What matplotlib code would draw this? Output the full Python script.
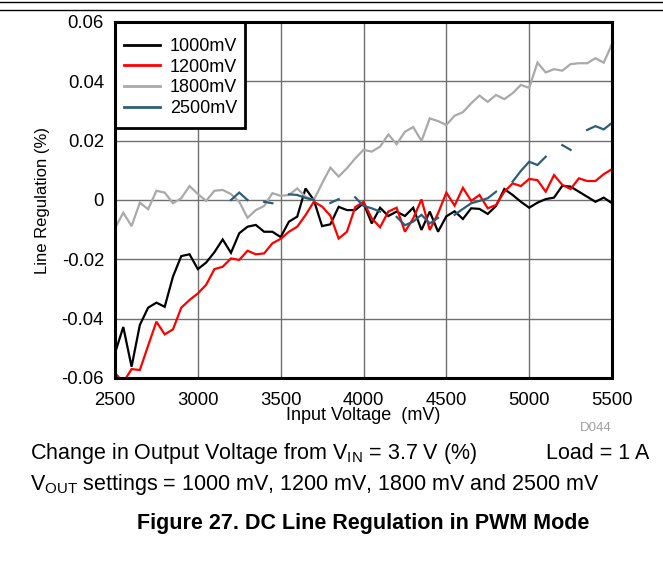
import numpy as np
import matplotlib
matplotlib.use("Agg")
import matplotlib.pyplot as plt
from matplotlib.lines import Line2D
from matplotlib.patches import Rectangle

plt.rcParams['font.family'] = ['Liberation Sans', 'DejaVu Sans']

nan = np.nan
vin = np.arange(2500, 5501, 50)

v1000 = [-0.0516, -0.0428, -0.0562, -0.0421, -0.0363, -0.0346, -0.0360, -0.0258, -0.0189, -0.0183,
         -0.0233, -0.0211, -0.0176, -0.0133, -0.0178, -0.0112, -0.0090, -0.0084, -0.0107, -0.0107,
         -0.0125, -0.0073, -0.0056, 0.0039, 0.0000, -0.0088, -0.0082, -0.0023, -0.0034, -0.0034,
         -0.0011, -0.0079, -0.0026, -0.0054, -0.0039, -0.0054, -0.0026, -0.0101, -0.0039, -0.0107,
         -0.0055, -0.0038, -0.0064, -0.0028, -0.0030, -0.0047, -0.0020, 0.0037, 0.0017, -0.0006,
         -0.0026, -0.0009, 0.0003, 0.0008, 0.0048, 0.0045, 0.0028, 0.0011, -0.0006, 0.0008,
         -0.0011]

v1200 = [-0.0583, -0.0615, -0.0570, -0.0573, -0.0491, -0.0410, -0.0453, -0.0436, -0.0363, -0.0337,
         -0.0315, -0.0286, -0.0233, -0.0225, -0.0197, -0.0202, -0.0171, -0.0183, -0.0180, -0.0146,
         -0.0131, -0.0107, -0.0090, -0.0051, -0.0006, -0.0022, -0.0053, -0.0130, -0.0107, -0.0024,
         -0.0006, -0.0062, -0.0092, -0.0039, -0.0026, -0.0107, -0.0062, 0.0002, -0.0101, -0.0045,
         0.0025, -0.0019, 0.0041, -0.0003, 0.0017, -0.0028, -0.0017, 0.0028, 0.0056, 0.0047,
         0.0071, 0.0067, 0.0028, 0.0084, 0.0051, 0.0037, 0.0073, 0.0064, 0.0064, 0.0087,
         0.0104]

v1800 = [-0.0095, -0.0043, -0.0088, -0.0009, -0.0031, 0.0031, 0.0025, -0.0011, 0.0006, 0.0047,
         0.0020, -0.0003, 0.0031, 0.0034, 0.0020, -0.0006, -0.0060, -0.0034, -0.0020, 0.0023,
         0.0014, 0.0017, 0.0039, 0.0011, 0.0000, 0.0056, 0.0109, 0.0079, 0.0107, 0.0140,
         0.0169, 0.0163, 0.0180, 0.0221, 0.0188, 0.0230, 0.0246, 0.0199, 0.0275, 0.0266,
         0.0253, 0.0284, 0.0296, 0.0326, 0.0352, 0.0331, 0.0354, 0.0340, 0.0360, 0.0388,
         0.0378, 0.0463, 0.0430, 0.0441, 0.0436, 0.0458, 0.0461, 0.0461, 0.0478, 0.0463,
         0.0525]

v2500 = [nan, nan, nan, nan, nan, nan, nan, nan, nan, nan,
         nan, nan, nan, nan, 0.0000, 0.0025, 0.0000, nan, -0.0006, -0.0011,
         nan, 0.0019, 0.0017, 0.0007, 0.0000, nan, -0.0010, 0.0003, nan, 0.0009,
         -0.0020, -0.0028, -0.0039, nan, -0.0057, -0.0085, -0.0073, -0.0050, -0.0079, -0.0060,
         nan, -0.0050, -0.0030, -0.0011, -0.0003, 0.0006, 0.0028, nan, 0.0062, 0.0098,
         0.0129, 0.0118, 0.0146, nan, 0.0185, 0.0169, nan, 0.0236, 0.0249, 0.0238,
         0.0260]

series = [("1000mV", v1000, "#000000"),
          ("1200mV", v1200, "#ff0000"),
          ("1800mV", v1800, "#a9a9a9"),
          ("2500mV", v2500, "#2d5d78")]

xticks = [2500, 3000, 3500, 4000, 4500, 5000, 5500]
yticks = [-0.06, -0.04, -0.02, 0, 0.02, 0.04, 0.06]
ytick_labels = ["-0.06", "-0.04", "-0.02", "0", "0.02", "0.04", "0.06"]

W, H = 663, 577
AX_L, AX_R, AX_T, AX_B = 115, 612, 22, 378
fig = plt.figure(figsize=(W / 100, H / 100), dpi=100)
ax = fig.add_axes([AX_L / W, 1 - AX_B / H, (AX_R - AX_L) / W, (AX_B - AX_T) / H])

for label, vals, col in series:
    ax.plot(vin, vals, color=col, lw=1.6, label=label, solid_joinstyle='miter')

ax.set_xlim(2500, 5500)
ax.set_ylim(-0.06, 0.06)
ax.set_xticks(xticks)
ax.set_xticklabels([str(t) for t in xticks])
ax.set_yticks(yticks)
ax.set_yticklabels(ytick_labels)
ax.tick_params(length=0, labelsize=13.3)
ax.tick_params(axis="x", pad=10)
ax.tick_params(axis="y", pad=8)
ax.grid(True, color="#707070", lw=1.0)
ax.set_axisbelow(True)
for s in ax.spines.values():
    s.set_linewidth(2.2)
    s.set_color("black")
    s.set_zorder(6)

ax.set_xlabel("Input Voltage  (mV)", fontsize=13, labelpad=-1)
ax.set_ylabel("Line Regulation (%)", fontsize=12, labelpad=8)

# legend box (frame drawn separately so its padding matches the reference)
box_w = (245 - AX_L) / (AX_R - AX_L)
box_h = (128 - AX_T) / (AX_B - AX_T)
ax.add_patch(Rectangle((0, 1 - box_h), box_w, box_h, transform=ax.transAxes,
                       facecolor="white", edgecolor="black", lw=2.0, zorder=4.5))
leg = ax.legend(loc="upper left", bbox_to_anchor=(0, 1 - 7 / (AX_B - AX_T)), borderaxespad=0,
                fontsize=13, handlelength=2.0, handletextpad=0.55, labelspacing=0.2,
                borderpad=0.5, frameon=False)
leg.set_zorder(5)
for h in leg.legend_handles:
    h.set_linewidth(2.0)

# header lines
fig.add_artist(Line2D([0, 1], [1 - 2 / H, 1 - 2 / H], color="black", lw=1.0))
fig.add_artist(Line2D([0, 1], [1 - 10 / H, 1 - 10 / H], color="black", lw=1.0))

fig.text(612 / W, 1 - 428 / H, "D044", ha="right", va="center", fontsize=9.5, color="#a0a0a0")
fig.text(30 / W, 1 - 459 / H, r"Change in Output Voltage from V$_{\mathregular{IN}}$ = 3.7 V (%)",
         ha="left", va="baseline", fontsize=15.5)
fig.text(649 / W, 1 - 459 / H, "Load = 1 A", ha="right", va="baseline", fontsize=15.5)
fig.text(30 / W, 1 - 490 / H, r"V$_{\mathregular{OUT}}$ settings = 1000 mV, 1200 mV, 1800 mV and 2500 mV",
         ha="left", va="baseline", fontsize=15.5)
fig.text(363 / W, 1 - 524 / H, "Figure 27. DC Line Regulation in PWM Mode",
         ha="center", va="center", fontsize=15.5, fontweight="bold")

fig.savefig("out.png", dpi=100)
